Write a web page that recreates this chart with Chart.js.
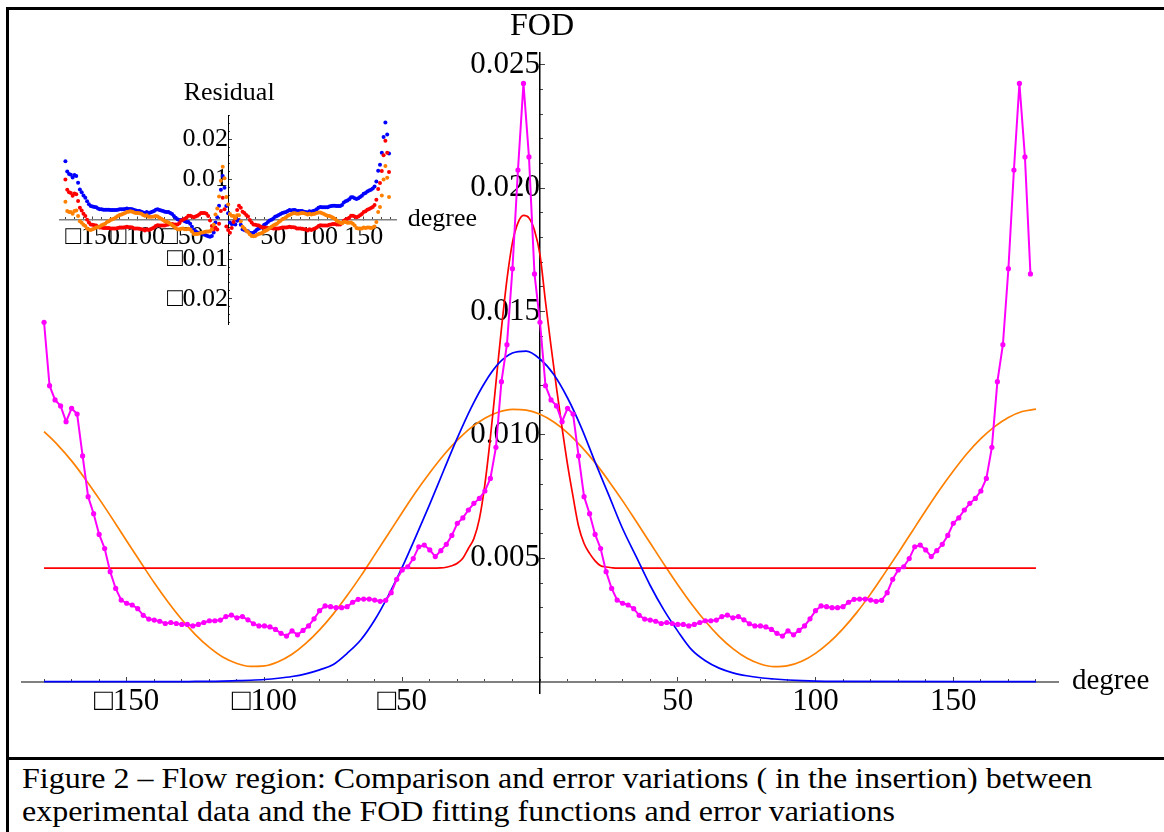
<!DOCTYPE html>
<html>
<head>
<meta charset="utf-8">
<script src="https://cdn.jsdelivr.net/npm/chart.js@4.4.0/dist/chart.umd.min.js"></script>
<style>
html,body{margin:0;padding:0;background:#fff;}
body{width:1164px;height:832px;position:relative;overflow:hidden;font-family:'Liberation Serif','Times New Roman',serif;}
.rule{position:absolute;background:#000;}
#caption{position:absolute;left:22px;top:761px;font-size:30px;line-height:33px;color:#000;white-space:nowrap;transform-origin:0 0;transform:scaleX(1.066);}
#main{position:absolute;left:-100px;top:-100px;}
#inset{position:absolute;left:0;top:0;}
</style>
</head>
<body>
<div class="rule" style="left:6px;top:7px;width:1200px;height:3px;"></div>
<div class="rule" style="left:6px;top:7px;width:3px;height:840px;"></div>
<div class="rule" style="left:6px;top:757px;width:1200px;height:3px;"></div>
<div id="caption">Figure 2 – Flow region: Comparison and error variations ( in the insertion) between<br>experimental data and the FOD fitting functions and error variations</div>
<canvas id="main" width="1364" height="1032"></canvas>
<canvas id="inset" width="600" height="500"></canvas>
<script>
// ---------- measured FOD (every 2 degrees) ----------
const fodLeft = [ // -180 .. -2
 0.01457,0.0120,0.01142,0.01118,0.01054,0.01108,0.01085,0.00915,0.0075,0.00681,
 0.00597,0.0054,0.00446,0.00378,0.00331,0.00318,0.00311,0.00296,0.00269,0.00254,
 0.0025,0.00245,0.00236,0.0024,0.00236,0.00232,0.00232,0.00226,0.00232,0.0024,
 0.00247,0.00247,0.0025,0.00264,0.0027,0.00259,0.00264,0.00251,0.00235,0.00226,
 0.00226,0.00222,0.00212,0.00196,0.00185,0.00206,0.0019,0.00208,0.00226,0.00255,
 0.00288,0.00307,0.00304,0.003,0.003,0.00304,0.00322,0.00334,0.00335,0.00335,
 0.00331,0.00326,0.0033,0.00361,0.00415,0.00453,0.00466,0.00499,0.00547,0.00554,
 0.00534,0.00507,0.00531,0.00557,0.00593,0.00642,0.00664,0.00696,0.00723,0.00743,
 0.00773,0.00824,0.0095,0.01216,0.01366,0.01674,0.02074,0.02425,0.02127,0.01653];
const fodRight = [ // 0 .. 178
 0.01457,0.0120,0.01142,0.01118,0.01054,0.01108,0.01085,0.00915,0.0075,0.00681,
 0.00597,0.0054,0.00446,0.00378,0.00331,0.00318,0.00311,0.00296,0.00269,0.00254,
 0.0025,0.00245,0.00236,0.0024,0.00236,0.00232,0.00232,0.00226,0.00232,0.0024,
 0.00247,0.00247,0.0025,0.00264,0.0027,0.00259,0.00264,0.00251,0.00235,0.00226,
 0.00226,0.00222,0.00212,0.00196,0.00185,0.00206,0.0019,0.00208,0.00226,0.00255,
 0.00288,0.00307,0.00304,0.003,0.003,0.00304,0.00322,0.00334,0.00335,0.00335,
 0.00331,0.00326,0.0033,0.00361,0.00415,0.00453,0.00466,0.00499,0.00547,0.00554,
 0.00534,0.00507,0.00531,0.00557,0.00593,0.00642,0.00664,0.00696,0.00723,0.00743,
 0.00773,0.00824,0.0095,0.01216,0.01366,0.01674,0.02074,0.02425,0.02127,0.01653];

// ---------- fitted curves (read at sample angles) ----------
const blueFitDeg = [-180,-135,-130,-125,-120,-115,-110,-105,-100,-95,-90,-85,-80,-75,-70,-65,-60,-55,-50,-45,-40,-35,-30,-25,-20,-15,-10,-5,0,5,10,15,20,25,30,35,40,45,50,55,60,65,70,75,80,85,90,95,100,110,180];
const blueFitVal = [0,0,0,0.00001,0.00001,0.00002,0.00004,0.00006,0.00009,0.00014,0.00021,0.00032,0.00048,0.0007,0.00115,0.0017,0.0025,0.0035,0.00464,0.0059,0.0072,0.00855,0.00988,0.0111,0.01213,0.0129,0.01332,0.0134,0.01308,0.01245,0.0115,0.0103,0.0089,0.00755,0.0062,0.00505,0.0039,0.0029,0.00205,0.0013,0.00085,0.00055,0.00036,0.00024,0.00016,0.00011,0.00007,0.00004,0.00002,0.00001,0];
const redFitDeg = [-180,-40,-36,-34,-32,-30,-28,-26,-24,-22,-20,-18,-16,-14,-12,-10,-8,-6,-4,-2,0,2,4,6,8,10,12,14,16,18,20,22,24,26,28,180];
const redFitVal = [0.0046,0.0046,0.00461,0.00464,0.0047,0.0048,0.005,0.0054,0.0058,0.0066,0.008,0.0099,0.0121,0.0143,0.0163,0.0178,0.0186,0.0189,0.0188,0.0183,0.0173,0.0154,0.0136,0.0119,0.0103,0.0088,0.0075,0.0063,0.0056,0.0052,0.0049,0.0047,0.00465,0.00462,0.0046,0.0046];
const orangeFitVal = [ // -180 .. 180 every 5 degrees
 0.01014,0.00959,0.00895,0.00821,0.00741,0.00657,0.0057,0.00485,0.00401,0.00323,
 0.00252,0.0019,0.00139,0.00099,0.00074,0.00062,0.00064,0.00081,0.00111,0.00155,
 0.0021,0.00275,0.00349,0.00429,0.00514,0.006,0.00686,0.0077,0.00847,0.00918,
 0.00979,0.0103,0.01068,0.01093,0.01104,0.01101,0.01084,0.01053,0.01009,0.00953,
 0.00888,0.00813,0.00733,0.00648,0.00562,0.00476,0.00393,0.00315,0.00245,0.00184,
 0.00134,0.00096,0.00072,0.00061,0.00065,0.00083,0.00115,0.00159,0.00215,0.00281,
 0.00356,0.00438,0.00522,0.00608,0.00694,0.00777,0.00854,0.00925,0.00985,0.01034,
 0.01071,0.01095,0.01105];

// ---------- residuals (inset), every 2 degrees from -180 to 178 ----------
const residBlue = [
 0.0146,0.012,0.0114,0.0112,0.0105,0.0111,0.0109,0.0092,0.0075,0.0068,
 0.006,0.0054,0.0045,0.0038,0.0033,0.0032,0.0031,0.003,0.0027,0.0025,
 0.0025,0.0024,0.0024,0.0024,0.0024,0.0023,0.0023,0.0023,0.0023,0.0024,
 0.0025,0.0025,0.0025,0.0026,0.0027,0.0026,0.0026,0.0025,0.0023,0.0022,
 0.0021,0.0021,0.0019,0.0017,0.0016,0.0018,0.0016,0.0017,0.0019,0.0021,
 0.0024,0.0025,0.0023,0.0022,0.0021,0.0019,0.0018,0.0018,0.0016,0.0013,
 0.0008,0.0004,0.0,-0.0002,-0.0002,-0.0001,-0.0005,-0.0007,-0.0007,-0.0011,
 -0.0019,-0.0027,-0.003,-0.0033,-0.0034,-0.0035,-0.0037,-0.0039,-0.0041,-0.0043,
 -0.0044,-0.0042,-0.0033,-0.0008,0.0005,0.0034,0.0074,0.0109,0.0079,0.0033,
 0.0015,-0.0008,-0.0012,-0.0011,-0.0013,-0.0004,-0.0002,-0.0014,-0.0025,-0.0027,
 -0.0029,-0.003,-0.0034,-0.0035,-0.0034,-0.003,-0.0026,-0.0023,-0.0021,-0.0018,
 -0.0014,-0.0011,-0.0007,-0.0003,-0.0001,0.0002,0.0006,0.0008,0.0011,0.0013,
 0.0016,0.0017,0.0018,0.0021,0.0023,0.0022,0.0023,0.0023,0.0021,0.0021,
 0.0021,0.0021,0.0019,0.0018,0.0017,0.002,0.0019,0.0021,0.0022,0.0025,
 0.0029,0.0031,0.003,0.003,0.003,0.003,0.0032,0.0033,0.0034,0.0034,
 0.0033,0.0033,0.0033,0.0036,0.0042,0.0045,0.0047,0.005,0.0055,0.0055,
 0.0053,0.0051,0.0053,0.0056,0.0059,0.0064,0.0066,0.007,0.0072,0.0074,
 0.0077,0.0082,0.0095,0.0122,0.0137,0.0167,0.0207,0.0243,0.0213,0.0165];
const residRed = [
 0.01,0.0074,0.0068,0.0066,0.0059,0.0065,0.0063,0.0046,0.0029,0.0022,
 0.0014,0.0008,-0.0001,-0.0008,-0.0013,-0.0014,-0.0015,-0.0016,-0.0019,-0.0021,
 -0.0021,-0.0022,-0.0022,-0.0022,-0.0022,-0.0023,-0.0023,-0.0023,-0.0023,-0.0022,
 -0.0021,-0.0021,-0.0021,-0.002,-0.0019,-0.002,-0.002,-0.0021,-0.0023,-0.0023,
 -0.0023,-0.0024,-0.0025,-0.0026,-0.0028,-0.0025,-0.0027,-0.0025,-0.0023,-0.0021,
 -0.0017,-0.0015,-0.0016,-0.0016,-0.0016,-0.0016,-0.0014,-0.0013,-0.0012,-0.0012,
 -0.0013,-0.0013,-0.0013,-0.001,-0.0004,-0.0001,0.0001,0.0004,0.0009,0.0009,
 0.0007,0.0005,0.0007,0.0009,0.0012,0.0016,0.0016,0.0016,0.0014,0.0008,
 -0.0003,-0.0017,-0.0026,-0.0021,-0.0026,-0.0011,0.0021,0.0054,0.0025,-0.0018,
 -0.0027,-0.0034,-0.0022,-0.0007,0.0002,0.0023,0.0034,0.0029,0.0019,0.0016,
 0.0011,0.0007,-0.0002,-0.0008,-0.0013,-0.0014,-0.0015,-0.0016,-0.0019,-0.0021,
 -0.0021,-0.0022,-0.0022,-0.0022,-0.0022,-0.0023,-0.0023,-0.0023,-0.0023,-0.0022,
 -0.0021,-0.0021,-0.0021,-0.002,-0.0019,-0.002,-0.002,-0.0021,-0.0023,-0.0023,
 -0.0023,-0.0024,-0.0025,-0.0026,-0.0028,-0.0025,-0.0027,-0.0025,-0.0023,-0.0021,
 -0.0017,-0.0015,-0.0016,-0.0016,-0.0016,-0.0016,-0.0014,-0.0013,-0.0012,-0.0012,
 -0.0013,-0.0013,-0.0013,-0.001,-0.0004,-0.0001,0.0001,0.0004,0.0009,0.0009,
 0.0007,0.0005,0.0007,0.001,0.0013,0.0018,0.002,0.0024,0.0026,0.0028,
 0.0031,0.0036,0.0049,0.0076,0.0091,0.0121,0.0161,0.0197,0.0167,0.0119];
const residOrange = [
 0.0044,0.0021,0.0018,0.0018,0.0014,0.0021,0.0022,0.0008,-0.0005,-0.0009,
 -0.0014,-0.0017,-0.0023,-0.0026,-0.0027,-0.0025,-0.0023,-0.0021,-0.002,-0.0018,
 -0.0015,-0.0013,-0.0011,-0.0007,-0.0005,-0.0002,0.0,0.0002,0.0005,0.0008,
 0.0011,0.0012,0.0014,0.0016,0.0018,0.0019,0.002,0.0019,0.0017,0.0016,
 0.0016,0.0015,0.0014,0.0011,0.0009,0.001,0.0006,0.0006,0.0006,0.0007,
 0.0008,0.0007,0.0004,0.0001,-0.0002,-0.0005,-0.0006,-0.0008,-0.0011,-0.0015,
 -0.0018,-0.0022,-0.0025,-0.0026,-0.0024,-0.0023,-0.0025,-0.0025,-0.0024,-0.0026,
 -0.0031,-0.0037,-0.0037,-0.0037,-0.0036,-0.0034,-0.0033,-0.0032,-0.0031,-0.0031,
 -0.003,-0.0025,-0.0014,0.0012,0.0027,0.0057,0.0097,0.0132,0.0103,0.0056,
 0.0037,0.0013,0.0009,0.0008,0.0003,0.001,0.001,-0.0005,-0.0019,-0.0023,
 -0.0029,-0.0032,-0.0038,-0.0042,-0.0043,-0.0042,-0.0039,-0.0037,-0.0036,-0.0034,
 -0.0031,-0.0028,-0.0026,-0.0022,-0.0019,-0.0016,-0.0013,-0.0011,-0.0007,-0.0004,
 0.0,0.0002,0.0005,0.0009,0.0011,0.0013,0.0015,0.0015,0.0014,0.0014,
 0.0015,0.0016,0.0015,0.0014,0.0012,0.0014,0.0012,0.0013,0.0014,0.0016,
 0.0017,0.0017,0.0015,0.0013,0.0011,0.0009,0.0008,0.0006,0.0004,0.0001,
 -0.0003,-0.0006,-0.0009,-0.001,-0.0007,-0.0007,-0.0009,-0.0009,-0.0008,-0.0011,
 -0.0016,-0.0022,-0.0023,-0.0023,-0.0023,-0.0021,-0.0022,-0.0021,-0.0021,-0.0022,
 -0.0021,-0.0018,-0.0007,0.0018,0.0031,0.006,0.01,0.0134,0.0104,0.0056];

// ---------- ticks ----------
const xTickValues = [-150,-100,-50,50,100,150];
const xTickText = ['\u25A1150','\u25A1100','\u25A150','50','100','150'];
const yTickValues = [0.005,0.010,0.015,0.020,0.025];
const yTickText = ['0.005','0.010','0.015','0.020','0.025'];
const xMinorTicks = [-180,-170,-160,-150,-140,-130,-120,-110,-100,-90,-80,-70,-60,-50,-40,-30,-20,-10,0,10,20,30,40,50,60,70,80,90,100,110,120,130,140,150,160,170,180];
const yMinorTicks = [0,0.001,0.002,0.003,0.004,0.005,0.006,0.007,0.008,0.009,0.010,0.011,0.012,0.013,0.014,0.015,0.016,0.017,0.018,0.019,0.020,0.021,0.022,0.023,0.024,0.025];
const insetYTickValues = [-0.02,-0.01,0.01,0.02];
const insetYTickText = ['\u25A10.02','\u25A10.01','0.01','0.02'];
const insetYMinorTicks = [-0.026,-0.024,-0.022,-0.02,-0.018,-0.016,-0.014,-0.012,-0.01,-0.008,-0.006,-0.004,-0.002,0,0.002,0.004,0.006,0.008,0.01,0.012,0.014,0.016,0.018,0.02,0.022,0.024,0.026];

// sampling grids (x positions of the samples)
const dataAngles = [];
for (let a = -180; a <= 178; a += 2) dataAngles.push(a);
const orangeFitDeg = [];
for (let a = -180; a <= 180; a += 5) orangeFitDeg.push(a);

const fodValues = fodLeft.concat(fodRight);
const pts = (xs, ys) => xs.map((x, i) => ({x: x, y: ys[i]}));

const SERIF = "'Liberation Serif','Times New Roman',serif";

function majorScale(opts) {
  return {
    type: 'linear', min: opts.min, max: opts.max, position: opts.position,
    border: {display: true, color: opts.borderColor, width: opts.borderWidth},
    grid: {drawOnChartArea: false, drawTicks: true, tickLength: opts.tickLength, color: '#444', lineWidth: 1},
    afterBuildTicks: s => { s.ticks = opts.values.map(v => ({value: v})); },
    ticks: {autoSkip: false, maxRotation: 0, minRotation: 0, padding: opts.padding, color: '#000',
      font: {family: SERIF, size: opts.fontSize},
      callback: (v, i) => opts.text[i]}
  };
}
function minorScale(opts) {
  return {
    type: 'linear', min: opts.min, max: opts.max, position: opts.position,
    border: {display: false},
    grid: {drawOnChartArea: false, drawTicks: true, tickLength: opts.tickLength, color: '#444', lineWidth: 1},
    afterBuildTicks: s => { s.ticks = opts.values.map(v => ({value: v})); },
    ticks: {autoSkip: false, maxRotation: 0, padding: 0, callback: () => ''}
  };
}

const mainTitles = {
  id: 'mainTitles',
  afterDraw(chart) {
    const ctx = chart.ctx, xs = chart.scales.x, ys = chart.scales.y;
    ctx.save();
    ctx.fillStyle = '#000';
    ctx.font = '32px ' + SERIF;
    ctx.textAlign = 'center'; ctx.textBaseline = 'alphabetic';
    ctx.fillText('FOD', xs.getPixelForValue(0) + 2, ys.top - 18);
    ctx.font = '29px ' + SERIF;
    ctx.textAlign = 'left';
    ctx.fillText('degree', xs.right + 14, ys.getPixelForValue(0) + 7);
    ctx.restore();
  }
};
const insetTitles = {
  id: 'insetTitles',
  afterDraw(chart) {
    const ctx = chart.ctx, xs = chart.scales.x, ys = chart.scales.y;
    ctx.save();
    ctx.fillStyle = '#000';
    ctx.font = '26px ' + SERIF;
    ctx.textAlign = 'center'; ctx.textBaseline = 'alphabetic';
    ctx.fillText('Residual', xs.getPixelForValue(0) + 1, ys.top - 15);
    ctx.textAlign = 'left';
    ctx.fillText('degree', xs.right + 11, ys.getPixelForValue(0) + 7);
    ctx.restore();
  }
};

new Chart(document.getElementById('main'), {
  type: 'line',
  data: {datasets: [
    {label: 'FOD', data: pts(dataAngles, fodValues), borderColor: '#ff00ff', backgroundColor: '#ff00ff',
     borderWidth: 2, pointRadius: 2.6, pointBorderWidth: 0, tension: 0, order: 0},
    {label: 'fit A', data: pts(blueFitDeg, blueFitVal), borderColor: '#0000ff', borderWidth: 1.7,
     pointRadius: 0, cubicInterpolationMode: 'monotone', order: 1},
    {label: 'fit B', data: pts(redFitDeg, redFitVal), borderColor: '#ff0000', borderWidth: 1.7,
     pointRadius: 0, cubicInterpolationMode: 'monotone', order: 2},
    {label: 'fit C', data: pts(orangeFitDeg, orangeFitVal), borderColor: '#ff8000', borderWidth: 1.7,
     pointRadius: 0, cubicInterpolationMode: 'monotone', order: 3}
  ]},
  options: {
    responsive: false, animation: false, devicePixelRatio: 1, events: [],
    layout: {padding: {left: 122, right: 206, top: 152.6, bottom: 238.7}},
    plugins: {legend: {display: false}, tooltip: {enabled: false}},
    scales: {
      x: majorScale({min: -188, max: 188, position: {y: 0}, borderColor: '#808080', borderWidth: 2,
        tickLength: -6, values: xTickValues, text: xTickText, padding: 8, fontSize: 31}),
      y: majorScale({min: -0.00047, max: 0.0255, position: {x: 0}, borderColor: '#000', borderWidth: 1.5,
        tickLength: -6, values: yTickValues, text: yTickText, padding: 0, fontSize: 31}),
      xMinor: minorScale({min: -188, max: 188, position: {y: 0}, tickLength: -3, values: xMinorTicks}),
      yMinor: minorScale({min: -0.00047, max: 0.0255, position: {x: 0}, tickLength: -3, values: yMinorTicks})
    }
  },
  plugins: [mainTitles]
});

new Chart(document.getElementById('inset'), {
  type: 'scatter',
  data: {datasets: [
    {label: 'res C', data: pts(dataAngles, residOrange), backgroundColor: '#ff8000', borderWidth: 0, pointRadius: 2, order: 0},
    {label: 'res B', data: pts(dataAngles, residRed), backgroundColor: '#ff0000', borderWidth: 0, pointRadius: 2, order: 1},
    {label: 'res A', data: pts(dataAngles, residBlue), backgroundColor: '#0000ff', borderWidth: 0, pointRadius: 2, order: 2}
  ]},
  options: {
    responsive: false, animation: false, devicePixelRatio: 1, events: [],
    layout: {padding: {left: 60, right: 203.3, top: 115, bottom: 175.7}},
    plugins: {legend: {display: false}, tooltip: {enabled: false}},
    scales: {
      x: majorScale({min: -186, max: 186.5, position: {y: 0}, borderColor: '#808080', borderWidth: 1.5,
        tickLength: -4, values: xTickValues, text: xTickText, padding: 6, fontSize: 26}),
      y: majorScale({min: -0.0264, max: 0.0262, position: {x: 0}, borderColor: '#000', borderWidth: 1,
        tickLength: -4, values: insetYTickValues, text: insetYTickText, padding: 0, fontSize: 26}),
      xMinor: minorScale({min: -186, max: 186.5, position: {y: 0}, tickLength: -2, values: xMinorTicks}),
      yMinor: minorScale({min: -0.0264, max: 0.0262, position: {x: 0}, tickLength: -2, values: insetYMinorTicks})
    }
  },
  plugins: [insetTitles]
});
</script>
</body>
</html>
